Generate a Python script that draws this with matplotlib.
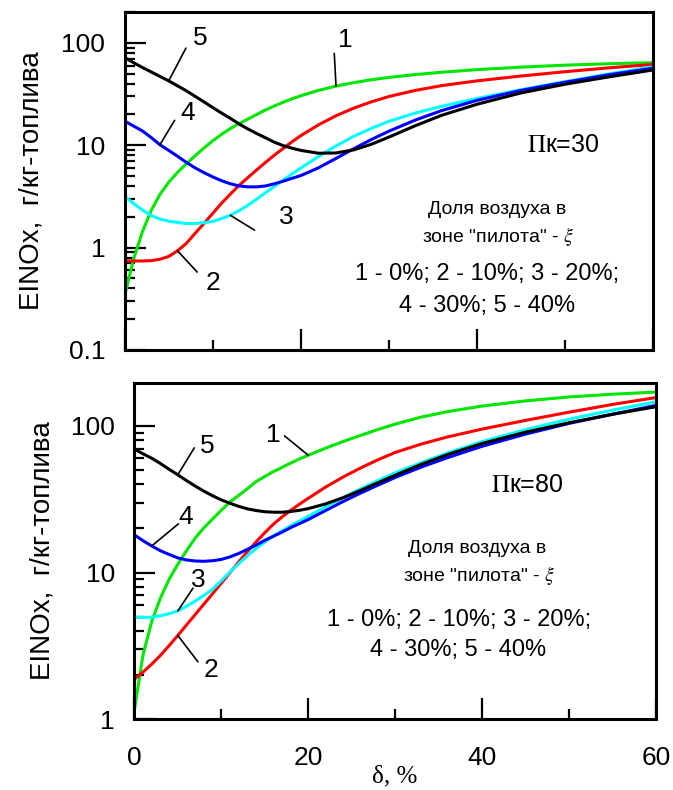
import numpy as np
import matplotlib
matplotlib.use("Agg")
import matplotlib.pyplot as plt
from matplotlib.ticker import FixedLocator, LogLocator, NullFormatter, FixedFormatter, MultipleLocator

plt.rcParams['font.family'] = ['Liberation Sans', 'DejaVu Sans']
plt.rcParams['mathtext.fontset'] = 'stix'

# delta, % (common grid for all curves)
delta = [0, 1, 2, 3, 4, 5, 6, 7, 8, 9, 10, 11, 12, 13, 14, 15, 16, 17, 18, 19, 20,
         22, 24, 26, 28, 30, 33, 36, 40, 45, 50, 55, 60]

# upper panel, Пк=30 ; EINOx, g/kg fuel
top_1 = [0.34, 0.77, 1.42, 2.3, 3.3, 4.35, 5.43, 6.58, 7.89, 9.38, 11.04, 12.76, 14.55, 16.3,
         18.0, 20.0, 22.1, 24.2, 26.3, 28.4, 30.4, 34.3, 37.8, 40.8, 43.6, 45.9, 49.0, 51.6,
         54.7, 57.9, 60.5, 62.5, 64.0]
top_2 = [0.74, 0.74, 0.74, 0.745, 0.77, 0.82, 0.93, 1.1, 1.38, 1.72, 2.16, 2.71, 3.33, 4.06,
         4.84, 5.75, 6.8, 8.0, 9.3, 10.8, 12.4, 15.8, 19.4, 23.0, 26.5, 29.9, 34.3, 38.2, 42.5,
         47.4, 52.2, 57.0, 61.5]
top_3 = [3.17, 2.7, 2.33, 2.06, 1.9, 1.81, 1.76, 1.72, 1.72, 1.75, 1.8, 1.92, 2.07, 2.3, 2.59,
         2.98, 3.44, 3.96, 4.56, 5.24, 5.98, 7.74, 9.84, 12.2, 14.6, 17.1, 20.6, 24.0, 28.6,
         34.8, 41.8, 49.7, 58.3]
top_4 = [17.2, 15.4, 13.8, 11.9, 10.1, 8.9, 7.8, 6.8, 6.0, 5.4, 4.9, 4.5, 4.2, 4.0, 3.92,
         3.92, 4.0, 4.2, 4.45, 4.75, 5.05, 6.01, 7.43, 9.23, 11.35, 13.7, 17.6, 21.8, 27.4,
         34.3, 41.2, 48.8, 56.5]
top_5 = [72, 64, 57.5, 52, 47, 42.5, 38, 34, 30, 26.5, 23.3, 20.6, 18.3, 16.1, 14.4, 13.0,
         11.8, 10.7, 9.9, 9.35, 8.9, 8.35, 8.4, 9.0, 10.2, 12.0, 15.5, 19.6, 25.1, 32.4,
         39.4, 46.5, 54.3]

# lower panel, Пк=80
bot_1 = [1.15, 2.75, 4.65, 6.7, 9.0, 11.4, 14.1, 17.2, 20.2, 23.2, 26.6, 30.3, 33.6, 37.3,
         41.7, 45.2, 48.8, 52.2, 55.8, 59.6, 63.1, 70.5, 78.2, 86.1, 94.4, 102.8, 114.8,
         125, 136.5, 148, 157.4, 164.4, 170]
bot_2 = [1.88, 2.1, 2.38, 2.73, 3.18, 3.73, 4.4, 5.18, 6.1, 7.18, 8.47, 10.0, 11.8, 13.9, 16.2,
         18.7, 21.4, 24.0, 26.6, 29.3, 32.1, 38.3, 44.8, 51.6, 58.7, 65.9, 75.2, 84.0, 95.1,
         109, 124, 140, 156]
bot_3 = [4.97, 4.95, 4.97, 5.08, 5.25, 5.48, 5.9, 6.4, 7.0, 7.7, 8.8, 10.1, 11.5, 13.0, 14.6,
         16.2, 17.8, 19.3, 20.9, 22.5, 24.2, 28.1, 32.4, 37.2, 42.3, 47.9, 56.2, 65.3, 78.2,
         94.2, 111, 128, 146]
bot_4 = [18.1, 16.5, 15.2, 14.1, 13.3, 12.6, 12.2, 12.0, 11.95, 12.05, 12.3, 12.8, 13.5, 14.4,
         15.4, 16.6, 17.7, 18.9, 20.3, 21.6, 23.0, 26.5, 30.5, 34.8, 39.4, 44.5, 52.4, 60.7,
         72.6, 87.9, 104, 120, 138]
bot_5 = [69.4, 64.5, 60.2, 55.4, 50.6, 46.4, 42.4, 38.9, 35.9, 33.4, 31.3, 29.7, 28.3, 27.2,
         26.5, 26.0, 25.8, 25.8, 26.1, 26.6, 27.3, 29.4, 32.4, 36.3, 40.9, 46.1, 54.7, 63.7,
         75.9, 90.6, 105, 120, 135]

colors = ['#00e600', '#ff0000', '#00ffff', '#0000ff', '#000000']
legend_lines = ['Доля воздуха в', 'зоне "пилота" - $\\xi$',
                '1 - 0%; 2 - 10%; 3 - 20%;', '4 - 30%; 5 - 40%']

fig = plt.figure(figsize=(6.73, 7.90), dpi=100)
ax1 = fig.add_axes([0.1853, 0.5570, 0.7850, 0.4278])
ax2 = fig.add_axes([0.1996, 0.0894, 0.7752, 0.4258])


def style_axes(ax, ymin, ymax, ylabels, show_x):
    ax.set_yscale('log')
    ax.set_xlim(0, 60)
    ax.set_ylim(ymin, ymax)
    for s in ax.spines.values():
        s.set_linewidth(2.2)
    ax.xaxis.set_major_locator(MultipleLocator(20))
    ax.xaxis.set_minor_locator(MultipleLocator(10))
    ax.yaxis.set_major_locator(FixedLocator([float(v) for v in ylabels]))
    ax.yaxis.set_major_formatter(FixedFormatter(ylabels))
    ax.yaxis.set_minor_locator(LogLocator(base=10, subs=np.arange(2, 10)))
    ax.yaxis.set_minor_formatter(NullFormatter())
    ax.tick_params(which='major', direction='in', length=15, width=1.6, labelsize=19)
    ax.tick_params(which='minor', direction='in', length=7.5, width=1.6)
    ax.tick_params(axis='y', which='both', right=False, pad=14)
    ax.tick_params(axis='x', which='both', top=False, pad=19, labelbottom=show_x)


def draw_curves(ax, curves):
    for ys, c in zip(curves, colors):
        ax.plot(delta, ys, color=c, lw=2.2, solid_joinstyle='round')


def leader(ax, text, i, ys, far, pos):
    ax.annotate('', xy=(delta[i], ys[i]), xytext=far,
                arrowprops=dict(arrowstyle='-', color='black', lw=1.2,
                                shrinkA=0, shrinkB=0))
    ax.text(pos[0], pos[1], text, fontsize=19, ha='center', va='center')


# upper panel
style_axes(ax1, 0.1, 200, ['0.1', '1', '10', '100'], False)
top = [top_1, top_2, top_3, top_4, top_5]
draw_curves(ax1, top)
leader(ax1, '5', 5, top_5, (6.95, 88.7), (8.54, 111))
leader(ax1, '4', 4, top_4, (5.67, 17.5), (7.18, 20.8))
leader(ax1, '3', 12, top_3, (14.74, 1.48), (18.4, 1.99))
leader(ax1, '2', 6, top_2, (8.23, 0.577), (10.0, 0.45))
leader(ax1, '1', 22, top_1, (23.8, 78.8), (25.1, 106))

ax1.text(0.830, 0.587, '$\\Pi$к=30', transform=ax1.transAxes, fontsize=18,
         ha='center', va='baseline')
ax1.text(0.705, 0.402, legend_lines[0], transform=ax1.transAxes, fontsize=14,
         ha='center', va='baseline')
ax1.text(0.707, 0.320, legend_lines[1], transform=ax1.transAxes, fontsize=14,
         ha='center', va='baseline')
ax1.text(0.686, 0.207, legend_lines[2], transform=ax1.transAxes, fontsize=17,
         ha='center', va='baseline')
ax1.text(0.686, 0.113, legend_lines[3], transform=ax1.transAxes, fontsize=17,
         ha='center', va='baseline')

# lower panel
style_axes(ax2, 1, 196, ['1', '10', '100'], True)
ax2.set_xticks([0, 20, 40, 60])
bot = [bot_1, bot_2, bot_3, bot_4, bot_5]
draw_curves(ax2, bot)
leader(ax2, '5', 5, bot_5, (6.89, 70.8), (8.35, 73.2))
leader(ax2, '1', 20, bot_1, (17.27, 85.5), (16.0, 86.9))
leader(ax2, '4', 2, bot_4, (5.07, 21.5), (5.85, 24.1))
leader(ax2, '3', 5, bot_3, (6.74, 7.83), (7.38, 8.92))
leader(ax2, '2', 5, bot_2, (7.31, 2.47), (8.85, 2.17))

ax2.text(0.753, 0.677, '$\\Pi$к=80', transform=ax2.transAxes, fontsize=18,
         ha='center', va='baseline')
ax2.text(0.658, 0.4955, legend_lines[0], transform=ax2.transAxes, fontsize=14,
         ha='center', va='baseline')
ax2.text(0.661, 0.411, legend_lines[1], transform=ax2.transAxes, fontsize=14,
         ha='center', va='baseline')
ax2.text(0.622, 0.278, legend_lines[2], transform=ax2.transAxes, fontsize=17,
         ha='center', va='baseline')
ax2.text(0.620, 0.188, legend_lines[3], transform=ax2.transAxes, fontsize=17,
         ha='center', va='baseline')

# axis titles
fig.text(31 / 673, 1 - 181 / 790, 'EINOx,  г/кг-топлива', rotation=90, fontsize=20,
         ha='center', va='center')
fig.text(43 / 673, 1 - 551 / 790, 'EINOx,  г/кг-топлива', rotation=90, fontsize=20,
         ha='center', va='center')
fig.text(395 / 673, 1 - 776 / 790, 'δ, %', fontsize=18, family=['Liberation Serif'],
         ha='center', va='center')

fig.savefig('out.png', dpi=100)
